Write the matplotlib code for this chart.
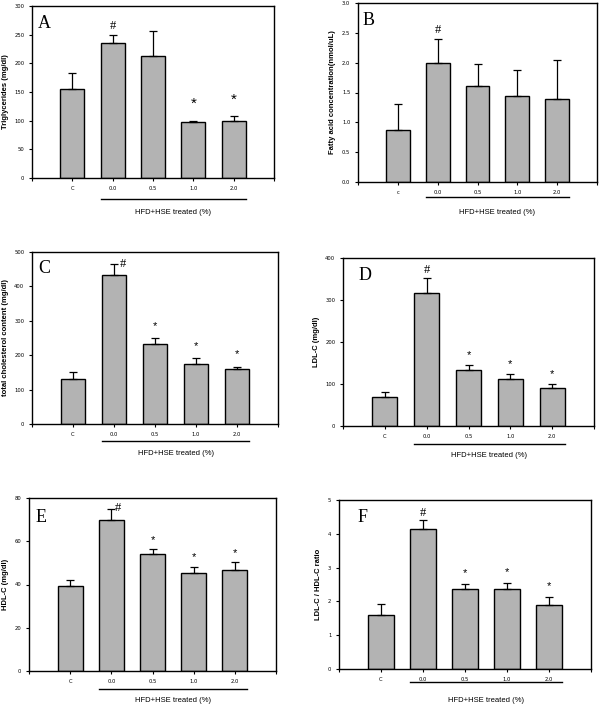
import matplotlib
matplotlib.use('Agg')
import matplotlib.pyplot as plt

W, H = 603, 707

groups = ['C', '0.0', '0.5', '1.0', '2.0']
groups_b = ['c', '0.0', '0.5', '1.0', '2.0']

tg_mean = [156, 236, 212, 98, 100]
tg_err = [28, 14, 44, 2, 8]
fa_mean = [0.87, 2.00, 1.61, 1.44, 1.39]
fa_err = [0.44, 0.40, 0.36, 0.43, 0.65]
tc_mean = [131, 432, 233, 173, 160]
tc_err = [20, 32, 17, 18, 7]
ldl_mean = [68, 317, 134, 112, 90]
ldl_err = [13, 35, 11, 12, 9]
hdl_mean = [39.3, 69.9, 54.0, 45.2, 46.7]
hdl_err = [2.8, 4.8, 2.3, 3.1, 3.7]
ratio_mean = [1.61, 4.14, 2.36, 2.36, 1.88]
ratio_err = [0.30, 0.27, 0.16, 0.19, 0.24]

marks_a = ['', '#', '', '*', '*']
marks_b = ['', '#', '', '', '']
marks_cf = ['', '#', '*', '*', '*']

yticks_a = [0, 50, 100, 150, 200, 250, 300]
yticks_b = [0.0, 0.5, 1.0, 1.5, 2.0, 2.5, 3.0]
yticks_c = [0, 100, 200, 300, 400, 500]
yticks_d = [0, 100, 200, 300, 400]
yticks_e = [0, 20, 40, 60, 80]
yticks_f = [0, 1, 2, 3, 4, 5]

xlabel = 'HFD+HSE treated (%)'

# panel boxes in pixels: left, right, top, bottom
panels = [
    dict(letter='A', box=(32, 274, 6, 178), mean=tg_mean, err=tg_err, marks=marks_a,
         yticks=yticks_a, ylabel='Triglycerides (mg/dl)', fmt='{:g}', cats=groups,
         hash_off=(0, 9), star_off=(0, 18), star_size=11, line_off=21, lab_off=34,
         letter_pos=(0.025, 0.95)),
    dict(letter='B', box=(358, 597, 3, 182), mean=fa_mean, err=fa_err, marks=marks_b,
         yticks=yticks_b, ylabel='Fatty acid concentration(nmol/uL)', fmt='{:.1f}',
         cats=groups_b, hash_off=(0, 9), star_off=(0, 12), star_size=8, line_off=15, lab_off=30,
         letter_pos=(0.02, 0.95)),
    dict(letter='C', box=(32, 278, 252, 424), mean=tc_mean, err=tc_err, marks=marks_cf,
         yticks=yticks_c, ylabel='total cholesterol content (mg/dl)', fmt='{:g}',
         cats=groups, hash_off=(9, 0), star_off=(0, 13), star_size=8, line_off=17, lab_off=30,
         letter_pos=(0.025, 0.953)),
    dict(letter='D', box=(343, 594, 258, 426), mean=ldl_mean, err=ldl_err, marks=marks_cf,
         yticks=yticks_d, ylabel='LDL-C (mg/dl)', fmt='{:g}', cats=groups,
         hash_off=(0, 8), star_off=(0, 11), star_size=8, line_off=18, lab_off=29,
         letter_pos=(0.06, 0.946)),
    dict(letter='E', box=(29, 276, 498, 671), mean=hdl_mean, err=hdl_err, marks=marks_cf,
         yticks=yticks_e, ylabel='HDL-C (mg/dl)', fmt='{:g}', cats=groups,
         hash_off=(7, 1), star_off=(0, 10), star_size=8, line_off=18, lab_off=29,
         letter_pos=(0.025, 0.936)),
    dict(letter='F', box=(339, 591, 500, 669), mean=ratio_mean, err=ratio_err, marks=marks_cf,
         yticks=yticks_f, ylabel='LDL-C / HDL-C ratio', fmt='{:g}', cats=groups,
         hash_off=(0, 7), star_off=(0, 12), star_size=8, line_off=13, lab_off=31,
         letter_pos=(0.075, 0.947)),
]

px = 72 / 100  # pixels -> points at dpi 100

fig = plt.figure(figsize=(W / 100, H / 100), dpi=100)
fig.patch.set_facecolor('white')

for p in panels:
    l, r, t, b = p['box']
    ax = fig.add_axes([l / W, 1 - b / H, (r - l) / W, (b - t) / H])
    x = list(range(1, len(p['mean']) + 1))
    ax.bar(x, p['mean'], width=0.6, color='#b3b3b3', edgecolor='black', linewidth=1.0,
           yerr=[[0] * len(p['err']), p['err']], capsize=3,
           error_kw=dict(elinewidth=0.9, capthick=0.9, ecolor='black'), zorder=2)
    ax.set_xlim(0, 6)
    ax.set_ylim(p['yticks'][0], p['yticks'][-1])
    ax.set_yticks(p['yticks'])
    ax.set_yticklabels([p['fmt'].format(v) for v in p['yticks']])
    ax.set_xticks(range(0, 7))
    ax.set_xticklabels([''] + p['cats'] + [''])
    ax.tick_params(direction='out', length=2.5, width=0.8, labelsize=3.8, pad=3)
    for s in ax.spines.values():
        s.set_linewidth(1.0)
    ax.set_ylabel(p['ylabel'], fontsize=5.5, fontweight='bold', labelpad=4,
                  family='Liberation Sans')
    ax.text(p['letter_pos'][0], p['letter_pos'][1], p['letter'], transform=ax.transAxes,
            ha='left', va='top', fontsize=13, family='Liberation Serif')

    # significance marks
    for xi, m, e, mk in zip(x, p['mean'], p['err'], p['marks']):
        if not mk:
            continue
        off = p['hash_off'] if mk == '#' else p['star_off']
        size = 9 if mk == '#' else p['star_size']
        ax.annotate(mk, xy=(xi, m + e), xytext=(off[0] * px, off[1] * px),
                    textcoords='offset points', ha='center',
                    va='center_baseline' if mk == '*' else 'center',
                    fontsize=size, family='Liberation Serif' if mk == '#' else 'Liberation Sans')

    # treatment underline and label
    tr = ax.get_xaxis_transform()
    line_y = -p['line_off'] / (b - t)
    lab_y = -p['lab_off'] / (b - t)
    ax.plot([1.7, 5.3], [line_y, line_y], color='black', lw=1.0, transform=tr, clip_on=False)
    ax.text(3.5, lab_y, xlabel, transform=tr, ha='center', va='center', fontsize=5.5,
            family='Liberation Sans')

fig.savefig('out.png', dpi=100)
